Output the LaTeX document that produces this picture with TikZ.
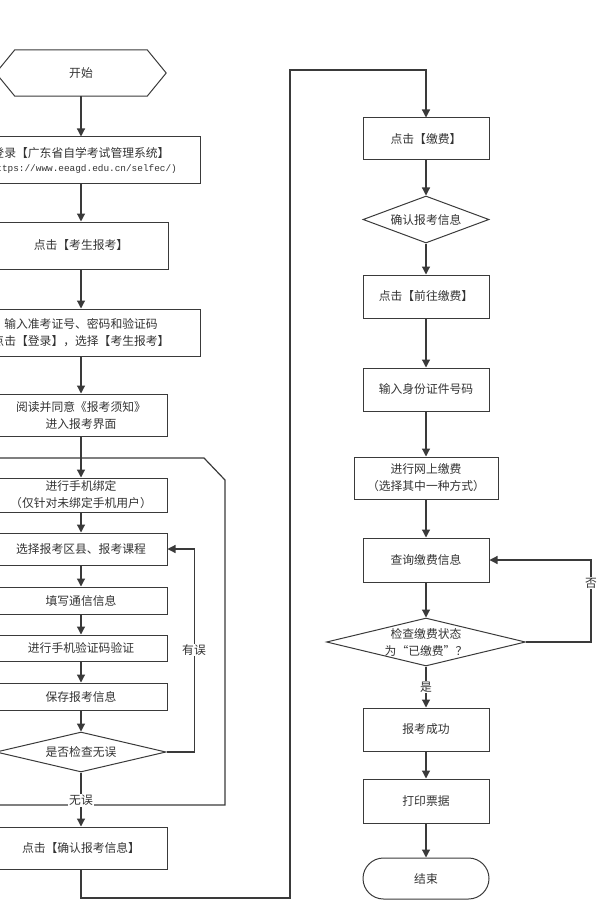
\documentclass[tikz,border=0pt]{standalone}
\usepackage{fontspec}
\setmainfont{Noto Sans CJK SC}
\newfontfamily\urlfont{Liberation Mono}
\usepackage{tikz}
\usetikzlibrary{arrows.meta, shapes.geometric}
\definecolor{my_line}{HTML}{3A3A3A}
\definecolor{my_text}{HTML}{333333}

\begin{document}
\begin{tikzpicture}[
    x=1pt, y=1pt,
    font=\fontsize{11.8}{17}\selectfont,
    box/.style={draw=my_line, line width=1pt, text=my_text, align=center,
        inner sep=0pt, minimum width=172pt, minimum height=43pt},
    dec/.style={diamond, draw=my_line, line width=1pt, text=my_text, align=center,
        inner sep=0pt},
    arr/.style={-{Triangle[length=8pt, width=8pt]}, line width=1.2pt, my_line},
    lin/.style={line width=1.2pt, my_line},
    lbl/.style={fill=white, text=my_text, inner sep=1pt}
]

% Rahmen der Seite (links abgeschnitten wie im Original)
\useasboundingbox (0, 0) rectangle (597, -920);
\clip (0, 0) rectangle (597, -920);

% ===== Linke Spalte: Anmelden und Anmeldung =====
\node[minimum width=170pt, minimum height=46pt, text=my_text] (start) at (81, -73) {开始};
\draw[my_line, line width=1pt] (start.west) -- ([xshift=19pt]start.north west)
    -- ([xshift=-19pt]start.north east) -- (start.east)
    -- ([xshift=-19pt]start.south east) -- ([xshift=19pt]start.south west) -- cycle;

\node[box, minimum width=238pt, minimum height=47pt] (login) at (81, -160.5)
    {登录【广东省自学考试管理系统】\\[-3pt]{\urlfont\fontsize{9.4}{12}\selectfont (https://www.eeagd.edu.cn/selfec/)}};
\node[box, minimum width=174pt, minimum height=47pt] (kaosheng) at (81, -245.5) {点击【考生报考】};
\node[box, minimum width=238pt, minimum height=47pt] (input) at (81, -332.5)
    {输入准考证号、密码和验证码\\点击【登录】，选择【考生报考】};
\node[box, minimum height=42pt] (read) at (81, -415) {阅读并同意《报考须知》\\进入报考界面};

% Schleifenrahmen
\draw[lin] (-20, -458) -- (204, -458) -- (225, -480) -- (225, -805) -- (-20, -805);

\node[box, minimum height=34pt] (bind) at (81, -495) {进行手机绑定\\（仅针对未绑定手机用户）};
\node[box, minimum height=32pt] (select) at (81, -549) {选择报考区县、报考课程};
\node[box, minimum height=27pt] (fill) at (81, -600.5) {填写通信信息};
\node[box, minimum height=26pt] (verify) at (81, -648) {进行手机验证码验证};
\node[box, minimum height=27pt] (save) at (81, -696.5) {保存报考信息};
\node[dec, minimum width=170pt, minimum height=40pt, aspect=4.25] (check) at (81, -752) {是否检查无误};
\node[box, minimum height=42pt] (confirm) at (81, -848) {点击【确认报考信息】};

\draw[arr] (start) -- (login);
\draw[arr] (login) -- (kaosheng);
\draw[arr] (kaosheng) -- (input);
\draw[arr] (input) -- (read);
\draw[arr] (read) -- (bind);
\draw[arr] (bind) -- (select);
\draw[arr] (select) -- (fill);
\draw[arr] (fill) -- (verify);
\draw[arr] (verify) -- (save);
\draw[arr] (save) -- (check);
\draw[arr] (check.east) -- ++(28, 0) |- (select.east);
\node[lbl] (err) at (194, -650) {有误};
\draw[arr] (check) -- node[lbl, pos=0.52] (ok) {无误} (confirm);

% Uebergang zur rechten Spalte
\coordinate (k1) at (290, -898);
\coordinate (k2) at (290, -70);

% ===== Rechte Spalte: Bezahlung =====
\node[box, minimum width=126pt, minimum height=42pt] (pay) at (426, -139) {点击【缴费】};
\node[dec, minimum width=126pt, minimum height=47pt, aspect=2.7] (info) at (426, -219.5) {确认报考信息};
\node[box, minimum width=126pt, minimum height=43pt] (gopay) at (426, -296.5) {点击【前往缴费】};
\node[box, minimum width=126pt, minimum height=43pt] (idnum) at (426, -389.5) {输入身份证件号码};
\node[box, minimum width=144pt, minimum height=42pt] (online) at (426, -478) {进行网上缴费\\（选择其中一种方式）};
\node[box, minimum width=126pt, minimum height=44pt] (query) at (426, -560) {查询缴费信息};
\node[dec, minimum width=199pt, minimum height=48pt, aspect=4.15] (status) at (426, -642)
    {检查缴费状态\\为“已缴费”？};
\node[box, minimum width=126pt, minimum height=43pt] (success) at (426, -729.5) {报考成功};
\node[box, minimum width=126pt, minimum height=44pt] (print) at (426, -801) {打印票据};
\node[box, minimum width=126pt, minimum height=41pt, rounded corners=20.5pt] (ende) at (426, -878.5) {结束};

\draw[arr] (confirm.south) |- (k1) -- (k2) -| (pay.north);
\draw[arr] (pay) -- (info);
\draw[arr] (info) -- (gopay);
\draw[arr] (gopay) -- (idnum);
\draw[arr] (idnum) -- (online);
\draw[arr] (online) -- (query);
\draw[arr] (query) -- (status);
\draw[arr] (status.east) -- ++(65, 0) |- (query.east);
\node[lbl] (no) at (591, -583) {否};
\draw[arr] (status) -- node[lbl, pos=0.5] (yes) {是} (success);
\draw[arr] (success) -- (print);
\draw[arr] (print) -- (ende);

\end{tikzpicture}
\end{document}
